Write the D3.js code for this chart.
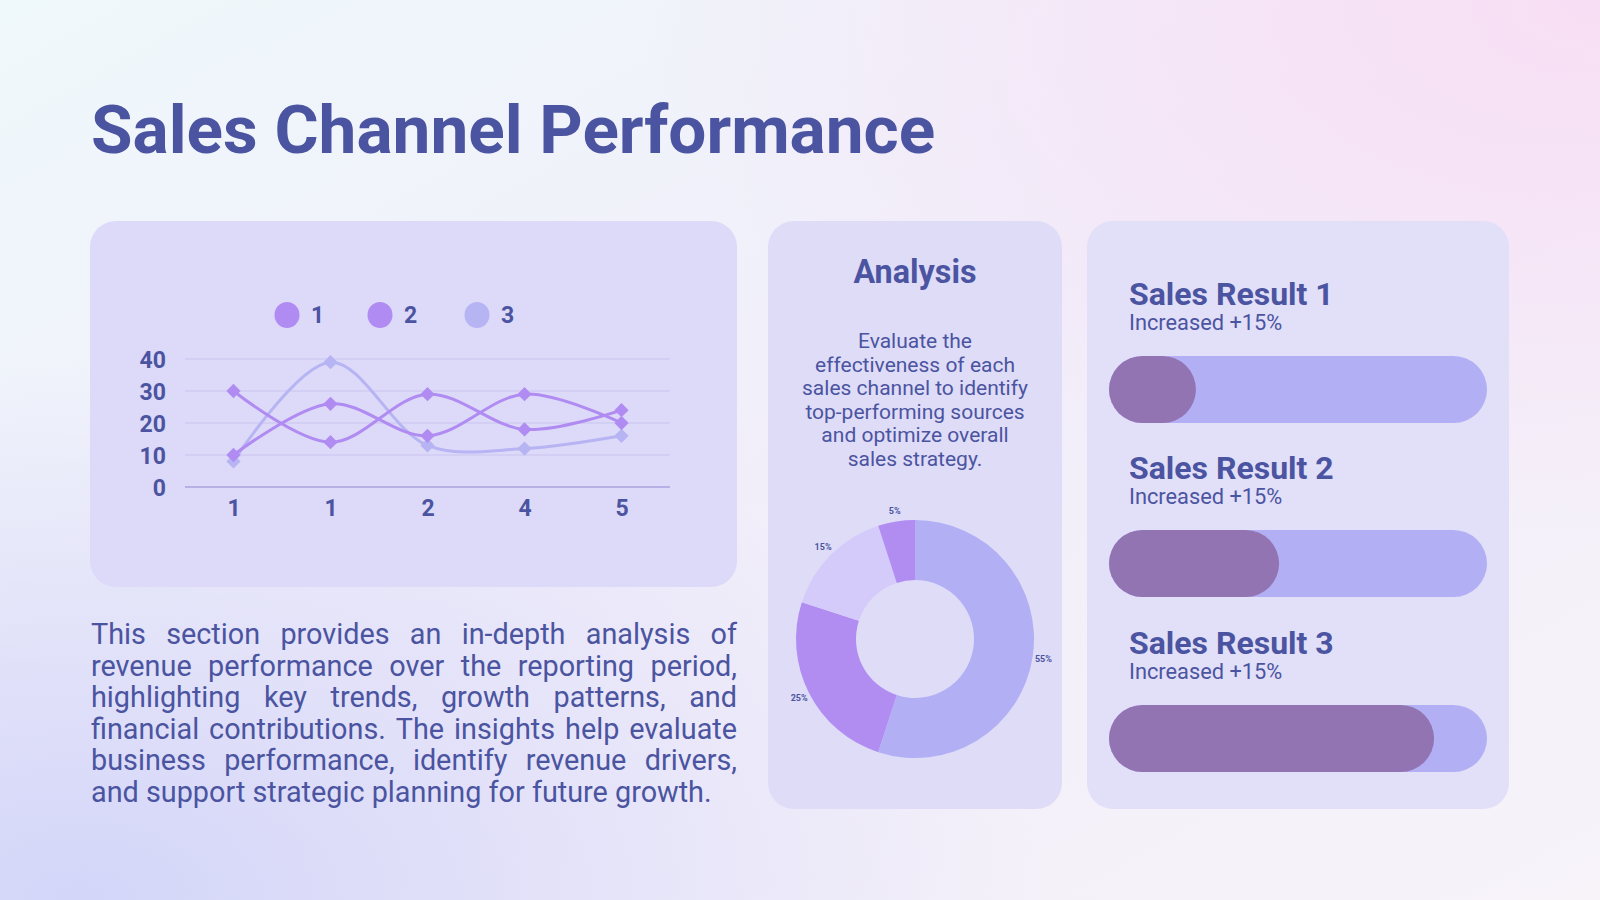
<!DOCTYPE html>
<html>
<head>
<meta charset="utf-8">
<script src="https://cdn.jsdelivr.net/npm/d3@7"></script>
<style>
  html, body { margin: 0; padding: 0; background: #f4f1fa; }
  svg { display: block; font-family: Roboto, "Noto Sans", sans-serif; }
</style>
</head>
<body>
<div id="container"></div>
<script>
let w = 1600;
let h = 900;
let ink = "#4b54a0";

// chart data
let xLabels = ["1", "1", "2", "4", "5"];
let seriesNames = ["1", "2", "3"];
let series1 = [30, 14, 29, 18, 24];
let series2 = [10, 26, 16, 29, 20];
let series3 = [8, 39, 13, 12, 16];
let yTicks = [0, 10, 20, 30, 40];
let lineColors = ["#b08cf2", "#b08cf2", "#b6b4f3"];

let pieLabels = ["55%", "25%", "15%", "5%"];
let pieValues = [55, 25, 15, 5];
let pieColors = ["#b3aff5", "#b18df2", "#d5cbfa", "#b18df2"];

let resultTitles = ["Sales Result 1", "Sales Result 2", "Sales Result 3"];
let resultNotes = ["Increased +15%", "Increased +15%", "Increased +15%"];
let resultValues = [23, 45, 86];

let paragraph = [
  "This section provides an in-depth analysis of",
  "revenue performance over the reporting period,",
  "highlighting key trends, growth patterns, and",
  "financial contributions. The insights help evaluate",
  "business performance, identify revenue drivers,",
  "and support strategic planning for future growth."
];
let analysisLines = [
  "Evaluate the",
  "effectiveness of each",
  "sales channel to identify",
  "top-performing sources",
  "and optimize overall",
  "sales strategy."
];

let viz = d3.select("#container").append("svg")
    .attr("width", w)
    .attr("height", h);

// background
let defs = viz.append("defs");
let bg = defs.append("linearGradient").attr("id", "bg")
    .attr("x1", 0).attr("y1", 0).attr("x2", 1).attr("y2", 1);
bg.append("stop").attr("offset", 0).attr("stop-color", "#eff8fb");
bg.append("stop").attr("offset", 0.5).attr("stop-color", "#f1eefa");
bg.append("stop").attr("offset", 1).attr("stop-color", "#f7f3f9");
let pink = defs.append("radialGradient").attr("id", "pink")
    .attr("cx", 1).attr("cy", 0).attr("r", 0.6);
pink.append("stop").attr("offset", 0).attr("stop-color", "#f8def4").attr("stop-opacity", 1);
pink.append("stop").attr("offset", 1).attr("stop-color", "#f8def4").attr("stop-opacity", 0);
let lav = defs.append("radialGradient").attr("id", "lav")
    .attr("cx", 0.05).attr("cy", 1).attr("r", 0.6);
lav.append("stop").attr("offset", 0).attr("stop-color", "#d3d6f9").attr("stop-opacity", 1);
lav.append("stop").attr("offset", 1).attr("stop-color", "#d6d4f8").attr("stop-opacity", 0);

viz.append("rect").attr("width", w).attr("height", h).attr("fill", "url(#bg)");
viz.append("rect").attr("width", w).attr("height", h).attr("fill", "url(#pink)");
viz.append("rect").attr("width", w).attr("height", h).attr("fill", "url(#lav)");

// title
viz.append("text")
    .attr("x", 91).attr("y", 153)
    .attr("font-size", 67.5).attr("font-weight", 700)
    .attr("fill", ink)
    .text("Sales Channel Performance");

// cards
let cards = [
  {x: 90, y: 221, w: 647, h: 366, c: "#ddd9f8"},
  {x: 768, y: 221, w: 294, h: 588, c: "#dfdcf8"},
  {x: 1087, y: 221, w: 422, h: 588, c: "#e2dff8"}
];
viz.selectAll(".card").data(cards).enter()
  .append("rect")
    .attr("class", "card")
    .attr("x", d => d.x).attr("y", d => d.y)
    .attr("width", d => d.w).attr("height", d => d.h)
    .attr("rx", 26)
    .attr("fill", d => d.c);

// ---- line chart ----
let allSeries = [series1, series2, series3];
let x = d3.scalePoint().domain(d3.range(xLabels.length)).range([185, 670]).padding(0.5);
let y = d3.scaleLinear().domain([0, 40]).range([487, 359]);

let chart = viz.append("g");
chart.selectAll(".grid").data(yTicks).enter()
  .append("line")
    .attr("x1", 185).attr("x2", 670)
    .attr("y1", d => y(d)).attr("y2", d => y(d))
    .attr("stroke", d => d == 0 ? "#a7a3de" : "#c9c5f0")
    .attr("stroke-width", d => d == 0 ? 1.5 : 1);

let yAxis = chart.append("g")
    .attr("transform", "translate(166,0)")
    .call(d3.axisLeft(y).tickValues(yTicks).tickSize(0).tickPadding(0));
let xAxis = chart.append("g")
    .attr("transform", "translate(0,487)")
    .call(d3.axisBottom(x).tickFormat(i => xLabels[i]).tickSize(0).tickPadding(13));
[yAxis, xAxis].forEach(function(ax){
  ax.select(".domain").remove();
  ax.selectAll("text")
    .attr("font-family", "Roboto, sans-serif")
    .attr("font-size", 23).attr("font-weight", 700)
    .attr("fill", ink);
});
yAxis.selectAll("text").attr("dy", "0.36em");

let lineMaker = d3.line()
    .x((d, i) => x(i))
    .y(d => y(d))
    .curve(d3.curveCatmullRom.alpha(0.5));

// draw light series first so purple lines sit on top
let order = [2, 0, 1];
order.forEach(function(k){
  chart.append("path")
    .attr("d", lineMaker(allSeries[k]))
    .attr("fill", "none")
    .attr("stroke", lineColors[k])
    .attr("stroke-width", 3);
  chart.selectAll(".pt" + k).data(allSeries[k]).enter()
    .append("path")
      .attr("class", "pt" + k)
      .attr("d", d3.symbol(d3.symbolDiamond2, 130))
      .attr("transform", (d, i) => "translate(" + x(i) + "," + y(d) + ")")
      .attr("fill", lineColors[k]);
});

// legend
let legendX = [287, 380, 477];
let legend = viz.selectAll(".leg").data(seriesNames).enter()
  .append("g").attr("class", "leg")
    .attr("transform", (d, i) => "translate(" + legendX[i] + ",315)");
legend.append("ellipse").attr("rx", 12.5).attr("ry", 13).attr("fill", (d, i) => lineColors[i]);
legend.append("text")
    .attr("x", 24).attr("dy", "0.36em")
    .attr("font-size", 23).attr("font-weight", 700)
    .attr("fill", ink)
    .text(d => d);

// ---- justified paragraph ----
let para = viz.append("g");
paragraph.forEach(function(line, li){
  let yy = 644 + li * 31.6;
  let words = line.split(" ");
  let last = li == paragraph.length - 1;
  if (last) {
    para.append("text").attr("x", 91).attr("y", yy)
      .attr("font-size", 28.8).attr("fill", ink).text(line);
    return;
  }
  let nodes = words.map(function(wd){
    return para.append("text").attr("y", yy)
      .attr("font-size", 28.8).attr("fill", ink).text(wd);
  });
  let widths = nodes.map(n => n.node().getComputedTextLength());
  let gap = (646 - d3.sum(widths)) / (words.length - 1);
  let cx = 91;
  nodes.forEach(function(n, i){
    n.attr("x", cx);
    cx += widths[i] + gap;
  });
});

// ---- analysis card ----
viz.append("text")
    .attr("x", 915).attr("y", 283)
    .attr("text-anchor", "middle")
    .attr("font-size", 32.3).attr("font-weight", 700)
    .attr("fill", ink)
    .text("Analysis");
viz.selectAll(".ana").data(analysisLines).enter()
  .append("text")
    .attr("class", "ana")
    .attr("x", 915).attr("y", (d, i) => 348 + i * 23.5)
    .attr("text-anchor", "middle")
    .attr("font-size", 21)
    .attr("fill", ink)
    .text(d => d);

let pie = d3.pie().sort(null).value(d => d);
let arcs = pie(pieValues);
let arcMaker = d3.arc().innerRadius(59).outerRadius(119);
let labelArc = d3.arc().innerRadius(130).outerRadius(130);
let donut = viz.append("g").attr("transform", "translate(915,639)");
donut.selectAll(".slice").data(arcs).enter()
  .append("path")
    .attr("class", "slice")
    .attr("d", arcMaker)
    .attr("fill", (d, i) => pieColors[i]);
donut.selectAll(".plab").data(arcs).enter()
  .append("text")
    .attr("class", "plab")
    .attr("transform", d => "translate(" + labelArc.centroid(d) + ")")
    .attr("text-anchor", "middle")
    .attr("dy", "0.35em")
    .attr("font-size", 9).attr("font-weight", 700)
    .attr("fill", ink)
    .text((d, i) => pieLabels[i]);

// ---- sales results ----
let barX = d3.scaleLinear().domain([0, 100]).range([0, 378]);
let rowTop = [305, 479, 654];
let results = viz.selectAll(".res").data(resultValues).enter()
  .append("g").attr("class", "res")
    .attr("transform", (d, i) => "translate(1109," + rowTop[i] + ")");
results.append("text")
    .attr("x", 20).attr("y", 0)
    .attr("font-size", 32).attr("font-weight", 700)
    .attr("fill", ink)
    .text((d, i) => resultTitles[i]);
results.append("text")
    .attr("x", 20).attr("y", 25)
    .attr("font-size", 21.8)
    .attr("fill", ink)
    .text((d, i) => resultNotes[i]);
results.append("rect")
    .attr("x", 0).attr("y", 51)
    .attr("width", barX(100)).attr("height", 67)
    .attr("rx", 33.5)
    .attr("fill", "#b3aff5");
results.append("rect")
    .attr("x", 0).attr("y", 51)
    .attr("width", d => barX(d)).attr("height", 67)
    .attr("rx", 33.5)
    .attr("fill", "#9274b2");
</script>
</body>
</html>
